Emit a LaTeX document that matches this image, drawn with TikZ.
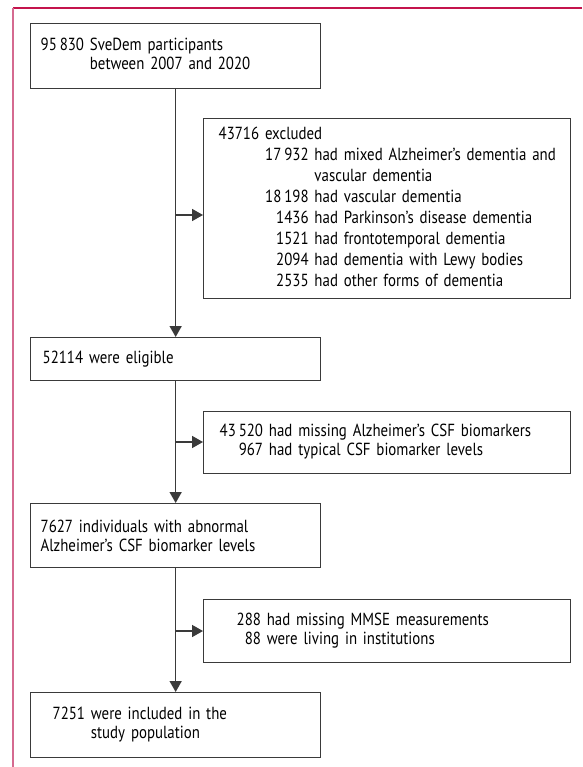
\documentclass[tikz,border=0pt]{standalone}
\usepackage{fontspec}
\setmainfont{PT Sans}[FakeStretch=0.85]
\usetikzlibrary{arrows.meta}
\definecolor{framered}{HTML}{C4144C}
\definecolor{framepink}{HTML}{D56A90}
\definecolor{boxgray}{HTML}{3A3A3A}
\newcommand{\nbox}[2]{\makebox[#1][r]{#2}}
\begin{document}
\begin{tikzpicture}[x=1pt,y=-1pt,
  box/.style={draw=boxgray, line width=1.3pt, anchor=north west, inner ysep=0pt, align=left,
    font=\fontsize{17.5}{19}\selectfont},
  flow/.style={draw=boxgray, line width=1.6pt, -{Triangle[width=12pt,length=11pt]}}]
\useasboundingbox (0,0) rectangle (582,767);
\draw[framered, line width=1.2pt] (13,8) -- (582,8);
\draw[framepink, line width=1.2pt] (13,767) -- (13,8);
\node[box, inner xsep=10pt, minimum width=290pt, minimum height=65pt, text width=270pt] (part) at (30,23)
  {\begin{tabular}{@{}r@{ }l@{}}95\,830 & SveDem participants\\ & between 2007 and 2020\end{tabular}};
\node[box, font=\fontsize{17.5}{21}\selectfont, inner xsep=15pt, minimum width=367pt, minimum height=180pt, text width=337pt] (excl) at (203,118)
  {\begin{tabular}{@{}r@{ }l@{}}\multicolumn{2}{@{}l@{}}{43716 excluded}\\
  \nbox{90pt}{17\,932} & had mixed Alzheimer’s dementia and\\
  & vascular dementia\\
  \nbox{90pt}{18\,198} & had vascular dementia\\
  \nbox{90pt}{1436} & had Parkinson’s disease dementia\\
  \nbox{90pt}{1521} & had frontotemporal dementia\\
  \nbox{90pt}{2094} & had dementia with Lewy bodies\\
  \nbox{90pt}{2535} & had other forms of dementia\end{tabular}};
\node[box, inner xsep=12pt, minimum width=290pt, minimum height=43pt, text width=266pt] (elig) at (30,337)
  {52114 were eligible};
\node[box, inner xsep=16pt, minimum width=367pt, minimum height=62pt, text width=335pt] (csf) at (203,411)
  {\begin{tabular}{@{}r@{ }l@{}}43\,520 & had missing Alzheimer’s CSF biomarkers\\ 967 & had typical CSF biomarker levels\end{tabular}};
\node[box, inner xsep=10pt, minimum width=290pt, minimum height=64pt, text width=270pt] (abn) at (30,503)
  {7627 individuals with abnormal\\Alzheimer’s CSF biomarker levels};
\node[box, inner xsep=33pt, minimum width=367pt, minimum height=63pt, text width=301pt] (mmse) at (203,599)
  {\begin{tabular}{@{}r@{ }l@{}}288 & had missing MMSE measurements\\ 88 & were living in institutions\end{tabular}};
\node[box, inner xsep=22pt, minimum width=290pt, minimum height=65pt, text width=246pt] (incl) at (30,692)
  {\begin{tabular}{@{}r@{ }l@{}}7251 & were included in the\\ & study population\end{tabular}};
% junctions on the main line
\coordinate (j1) at (175,215);
\coordinate (j2) at (175,442);
\coordinate (j3) at (175,631);
\draw[flow] (part) -- (elig);
\draw[flow] (elig) -- (abn);
\draw[flow] (abn) -- (incl);
\draw[flow] (j1) -- (j1 -| excl.west);
\draw[flow] (j2) -- (j2 -| csf.west);
\draw[flow] (j3) -- (j3 -| mmse.west);
\end{tikzpicture}
\end{document}
